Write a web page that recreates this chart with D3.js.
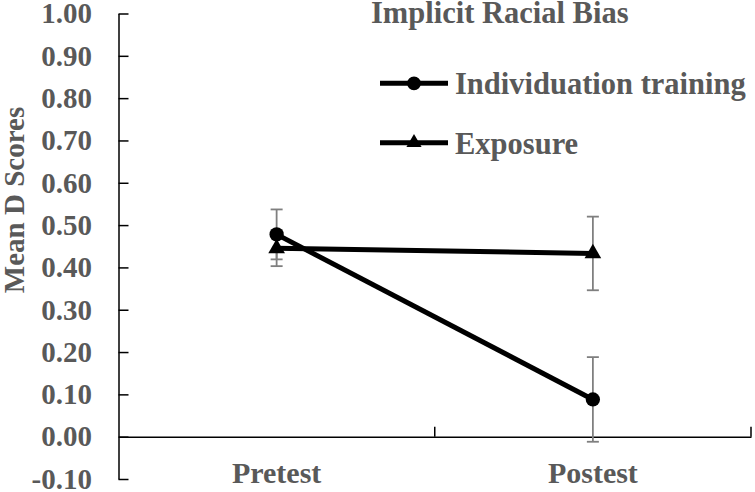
<!DOCTYPE html>
<html>
<head>
<meta charset="utf-8">
<script src="https://cdn.jsdelivr.net/npm/d3@7"></script>
<style>
  body { margin: 0; background: #fff; }
  text { font-family: "Liberation Serif", "Times New Roman", serif; font-weight: bold; }
</style>
</head>
<body>
<script>
// values
var categories = ["Pretest", "Postest"];
var individuation = [0.478, 0.088];
var individuationErr = [0.059, 0.100];
var exposure = [0.445, 0.433];
var exposureErr = [0.042, 0.087];
var yTicks = [-0.1, 0, 0.1, 0.2, 0.3, 0.4, 0.5, 0.6, 0.7, 0.8, 0.9, 1.0];

var width = 755, height = 492;
var gray = "#595959";

var svg = d3.select("body").append("svg")
    .attr("width", width)
    .attr("height", height);

var x = d3.scaleBand().domain(categories).range([118.5, 751]),
    y = d3.scaleLinear().domain([-0.1, 1.0]).range([479, 13.5]);

function cx(c) { return x(c) + x.bandwidth() / 2; }

// y axis, ticks point inward
var yAxis = svg.append("g")
    .attr("transform", "translate(118.5,0)")
    .call(d3.axisLeft(y).tickValues(yTicks).tickSizeInner(-10).tickSizeOuter(0)
        .tickPadding(26.5).tickFormat(d3.format(".2f")));
yAxis.select(".domain").attr("stroke", "#000").attr("stroke-width", 1.5);
yAxis.selectAll(".tick line").attr("stroke", "#000").attr("stroke-width", 1.5);
yAxis.selectAll(".tick text")
    .attr("fill", gray)
    .style("font-size", "29px")
    .text(function(d) { return d3.format(".2f")(d).replace("−", "-"); });

// x axis at zero
var xAxis = svg.append("g")
    .attr("transform", "translate(0," + y(0) + ")")
    .call(d3.axisBottom(x).tickSize(0).tickPadding(24.7));
xAxis.select(".domain").attr("stroke", "#000").attr("stroke-width", 1.5);
xAxis.selectAll(".tick text").attr("fill", gray).style("font-size", "30px");

// category boundary ticks
xAxis.selectAll(".bound")
    .data(categories)
  .enter().append("line")
    .attr("class", "bound")
    .attr("x1", function(c) { return x(c) + x.bandwidth(); })
    .attr("x2", function(c) { return x(c) + x.bandwidth(); })
    .attr("y1", 0)
    .attr("y2", -10)
    .attr("stroke", "#000")
    .attr("stroke-width", 1.5);

var series = [
  {name: "Individuation training", values: individuation, err: individuationErr, shape: d3.symbolCircle, size: 160},
  {name: "Exposure", values: exposure, err: exposureErr, shape: d3.symbolTriangle, size: 120}
];

// error bars
series.forEach(function(s) {
  var g = svg.append("g").attr("stroke", "#7f7f7f").attr("stroke-width", 1.8);
  categories.forEach(function(c, i) {
    var v = s.values[i], e = s.err[i], px = cx(c);
    g.append("line").attr("x1", px).attr("x2", px).attr("y1", y(v - e)).attr("y2", y(v + e));
    [v - e, v + e].forEach(function(t) {
      g.append("line").attr("x1", px - 6).attr("x2", px + 6).attr("y1", y(t)).attr("y2", y(t));
    });
  });
});

var line = d3.line()
    .x(function(d) { return cx(d.c); })
    .y(function(d) { return y(d.v); });

series.forEach(function(s) {
  var pts = categories.map(function(c, i) { return {c: c, v: s.values[i]}; });
  svg.append("path")
      .attr("d", line(pts))
      .attr("fill", "none")
      .attr("stroke", "#000")
      .attr("stroke-width", 5);
  svg.selectAll(null)
      .data(pts)
    .enter().append("path")
      .attr("d", d3.symbol().type(s.shape).size(s.size))
      .attr("transform", function(d) { return "translate(" + cx(d.c) + "," + y(d.v) + ")"; })
      .attr("fill", "#000");
});

// title
svg.append("text")
    .attr("x", 371)
    .attr("y", 23)
    .attr("fill", gray)
    .style("font-size", "30.5px")
    .text("Implicit Racial Bias");

// legend
var legendY = [83.3, 142.7];
series.forEach(function(s, i) {
  var g = svg.append("g").attr("transform", "translate(0," + legendY[i] + ")");
  g.append("line").attr("x1", 380).attr("x2", 448).attr("y1", 0).attr("y2", 0)
      .attr("stroke", "#000").attr("stroke-width", 5);
  g.append("path")
      .attr("d", d3.symbol().type(s.shape).size(i === 0 ? 150 : 100))
      .attr("transform", "translate(414,0)")
      .attr("fill", "#000");
  g.append("text")
      .attr("x", 455)
      .attr("y", 11)
      .attr("fill", gray)
      .style("font-size", "30.5px")
      .text(s.name);
});

// y axis title
svg.append("text")
    .attr("transform", "translate(23.5,200)rotate(-90)")
    .attr("text-anchor", "middle")
    .attr("fill", gray)
    .style("font-size", "29px")
    .text("Mean D Scores");
</script>
</body>
</html>
